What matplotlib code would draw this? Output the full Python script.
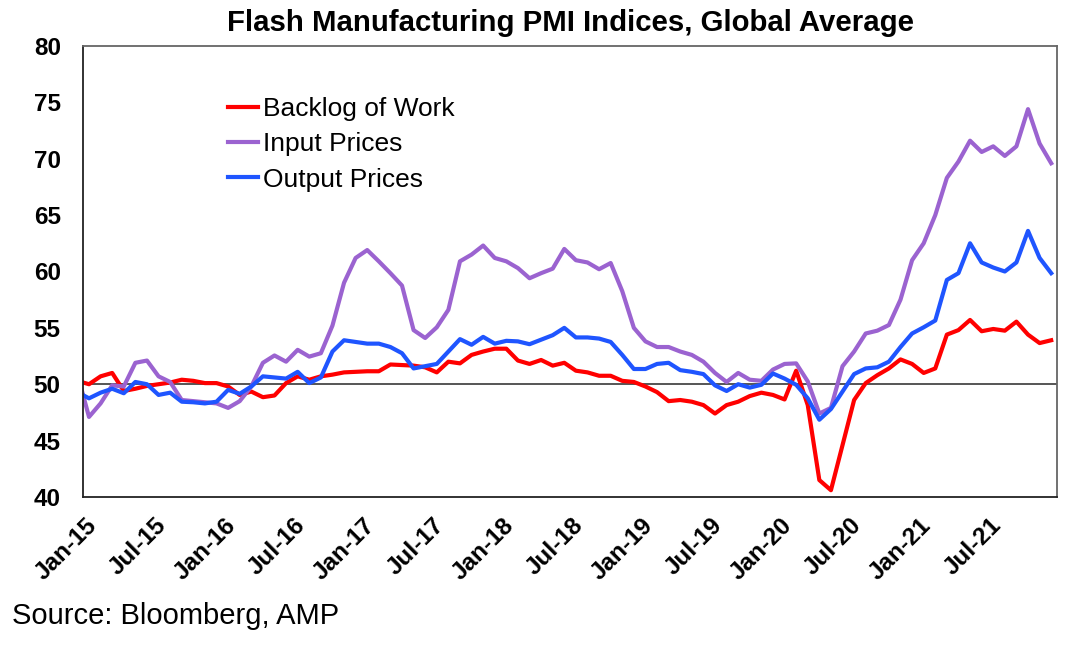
import numpy as np
import matplotlib as mpl
mpl.use('Agg')
import matplotlib.pyplot as plt
import matplotlib.transforms as mtransforms

mpl.rcParams['font.family'] = ['Liberation Sans', 'DejaVu Sans']

# monthly readings, Dec-14 .. Dec-21 (the Dec-14 point sits just off the left edge)
backlog_of_work = [
  50.3, 50.0, 50.7, 51.0, 49.4, 49.6, 49.85, 50.0, 50.15, 50.4, 50.3, 50.1, 50.1,
  49.8, 49.05, 49.35, 48.85, 49.0, 50.1, 50.7, 50.4, 50.7, 50.85, 51.05, 51.1,
  51.15, 51.15, 51.75, 51.7, 51.65, 51.5, 51.05, 52.0, 51.85, 52.6, 52.9, 53.15,
  53.15, 52.1, 51.8, 52.15, 51.65, 51.9, 51.2, 51.05, 50.75, 50.75, 50.3, 50.2,
  49.8, 49.3, 48.5, 48.6, 48.45, 48.15, 47.4, 48.15, 48.45, 48.95, 49.25, 49.05,
  48.65, 51.2, 48.15, 41.5, 40.6, 44.6, 48.6, 50.1, 50.8, 51.4, 52.2, 51.8,
  51.0, 51.4, 54.4, 54.8, 55.7, 54.7, 54.9, 54.75, 55.55, 54.4, 53.65, 53.9]
input_prices = [
  50.9, 47.1, 48.3, 49.9, 49.8, 51.9, 52.1, 50.7, 50.2, 48.6, 48.5, 48.4, 48.3,
  47.9, 48.5, 49.8, 51.9, 52.55, 52.0, 53.05, 52.45, 52.75, 55.2, 59.0, 61.2,
  61.9, 60.9, 59.85, 58.75, 54.8, 54.1, 55.05, 56.6, 60.9, 61.5, 62.3, 61.2,
  60.9, 60.3, 59.4, 59.85, 60.25, 62.0, 61.0, 60.8, 60.2, 60.75, 58.25, 55.0,
  53.8, 53.3, 53.3, 52.9, 52.6, 52.0, 51.0, 50.2, 51.0, 50.4, 50.3, 51.3,
  51.8, 51.85, 50.25, 47.4, 47.9, 51.6, 52.9, 54.5, 54.75, 55.25, 57.5, 61.0,
  62.5, 65.0, 68.3, 69.75, 71.6, 70.6, 71.1, 70.25, 71.1, 74.4, 71.35, 69.6]
output_prices = [
  49.3, 48.75, 49.25, 49.6, 49.2, 50.2, 50.0, 49.05, 49.25, 48.45, 48.4, 48.3, 48.45,
  49.5, 49.15, 49.8, 50.7, 50.6, 50.5, 51.1, 50.1, 50.6, 52.9, 53.9, 53.75,
  53.6, 53.6, 53.3, 52.75, 51.4, 51.6, 51.8, 52.9, 54.0, 53.5, 54.2, 53.6,
  53.85, 53.8, 53.55, 53.95, 54.35, 55.0, 54.15, 54.15, 54.05, 53.75, 52.6, 51.35,
  51.35, 51.8, 51.9, 51.25, 51.1, 50.9, 49.9, 49.4, 50.0, 49.7, 49.95, 50.95,
  50.5, 49.95, 48.75, 46.85, 47.8, 49.35, 50.9, 51.4, 51.5, 52.0, 53.3, 54.5,
  55.05, 55.65, 59.25, 59.85, 62.5, 60.8, 60.35, 60.0, 60.8, 63.6, 61.2, 59.85]

tick_labels = ['Jan-15', 'Jul-15', 'Jan-16', 'Jul-16', 'Jan-17', 'Jul-17', 'Jan-18',
               'Jul-18', 'Jan-19', 'Jul-19', 'Jan-20', 'Jul-20', 'Jan-21', 'Jul-21']


def main():
  months = np.arange(len(backlog_of_work)) - 1  # 0 = Jan-15

  fig = plt.figure(figsize=(10.72, 6.45), dpi=100)
  ax = fig.add_axes([0.0774, 0.2295, 0.9086, 0.6992])

  ax.axhline(50, color='#555555', lw=1.4, zorder=1)
  ax.plot(months, backlog_of_work, color='#ff0000', lw=3, label='Backlog of Work')
  ax.plot(months, input_prices, color='#9b63d0', lw=3, label='Input Prices')
  ax.plot(months, output_prices, color='#1f55ff', lw=3, label='Output Prices')

  ax.set_xlim(-0.52, 83.5)
  ax.set_ylim(40, 80)
  ax.set_yticks(np.arange(40, 81, 5))
  ax.tick_params(axis='y', length=0, pad=16, labelsize=17.5)
  for lbl in ax.get_yticklabels():
    lbl.set_fontweight('bold')

  ax.set_xticks(np.arange(0, 84, 6))
  ax.set_xticklabels(tick_labels, rotation=45, ha='right', va='top',
                     rotation_mode='anchor', fontsize=17.5, fontweight='bold')
  ax.tick_params(axis='x', length=0, pad=12)
  shift = mtransforms.ScaledTranslation(-4 / 100, 0, fig.dpi_scale_trans)
  for lbl in ax.get_xticklabels():
    lbl.set_transform(lbl.get_transform() + shift)

  for side in ['left', 'bottom']:
    ax.spines[side].set_color('#222222')
    ax.spines[side].set_linewidth(1.3)
  for side in ['right', 'top']:
    ax.spines[side].set_color('#666666')
    ax.spines[side].set_linewidth(1.3)

  ax.legend(loc='upper left', bbox_to_anchor=(0.149, 0.886), frameon=False,
            fontsize=19, handlelength=1.12, handletextpad=0.2,
            labelspacing=0.42, borderpad=0, borderaxespad=0)

  fig.text(0.532, 0.964, 'Flash Manufacturing PMI Indices, Global Average',
           ha='center', va='center', fontsize=21.2, fontweight='bold')
  fig.text(0.011, 0.033, 'Source: Bloomberg, AMP', fontsize=21)

  fig.savefig('out.png', dpi=100)


if __name__ == '__main__':
  main()
